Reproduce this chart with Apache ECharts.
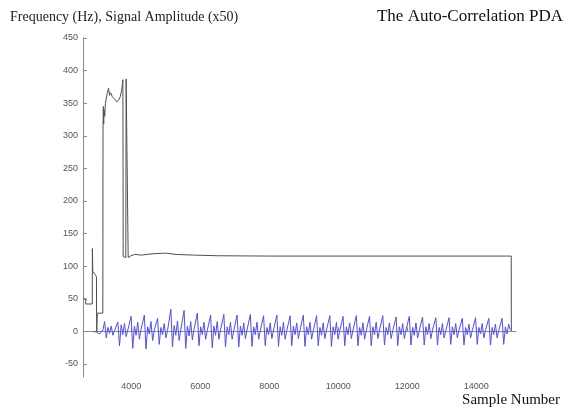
<!DOCTYPE html>
<html>
<head>
<meta charset="utf-8">
<script src="https://cdn.jsdelivr.net/npm/echarts@6/dist/echarts.min.js"></script>
<style>html,body{margin:0;padding:0;background:#fff}#c{width:576px;height:414px}</style>
</head>
<body>
<div id="c"></div>
<script>
// Pitch estimate (Hz) breakpoints: sample number, frequency
const pitchX = [2620,2680,2680,2870,2872,2885,2940,2990,2993,2998,3010,3015,3175,3180,3190,3200,3210,3230,3250,3300,3340,3370,3400,3450,3520,3580,3640,3680,3720,3757,3765,3840,3850,3900,3910,3990,4100,4300,4600,5000,5300,5800,6500,8000,15012,15015];
const pitchY = [50,50,42,42,127,92,88,84,28,0,0,28,28,310,345,318,340,330,350,365,373,362,366,360,356,352,355,360,370,386,115,113,387,385,113,116,118,117,119,120,118,117,116,115.5,115.5,0];

// Signal amplitude (x50), sampled every sigStep samples from sigStart
const sigStart = 2890;
const sigStep = 48;
const sigValues = [
 0,0,-1,-3,-4,-1,
 2,15,-10,6,-3,8,-6,1,
 3,14,-22,10,-5,12,-8,2,
 4,23,-26,8,-6,14,-12,3,
 2,25,-27,7,-4,15,-14,2,
 3,20,-20,6,-5,12,-10,1,
 4,34,-24,9,-6,16,-14,2,
 3,32,-26,8,-7,15,-13,3,
 2,28,-22,7,-5,14,-12,1,
 3,25,-25,8,-6,15,-12,2,
 2,26,-24,7,-5,14,-12,1,
 3,25,-24,8,-6,13,-11,2,
 2,26,-23,7,-5,14,-12,1,
 3,24,-22,6,-5,13,-11,2,
 2,25,-23,7,-6,14,-12,1,
 3,24,-22,8,-5,13,-11,2,
 2,25,-23,7,-5,14,-12,1,
 3,24,-22,6,-6,13,-11,2,
 2,24,-23,7,-5,14,-12,1,
 3,23,-22,7,-5,13,-11,2,
 2,24,-22,6,-6,13,-12,1,
 3,23,-22,7,-5,14,-11,2,
 2,24,-21,6,-5,13,-11,1,
 3,22,-22,7,-5,12,-11,2,
 2,23,-21,6,-6,13,-10,1,
 3,22,-21,7,-5,12,-11,2,
 2,21,-21,6,-5,12,-10,1,
 3,21,-20,7,-5,12,-10,2,
 2,20,-21,6,-5,11,-10,1,
 3,21,-20,6,-4,12,-10,2,
 2,20,-21,6,-5,11,-10,1,
 3,20,-20,7,-4,11,2
];

const yTicks = [-50,0,50,100,150,200,250,300,350,400,450];
const xTicks = [4000,6000,8000,10000,12000,14000];

const pitchData = pitchX.map((x, i) => [x, pitchY[i]]);
const sigData = sigValues.map((v, i) => [sigStart + i * sigStep, v]);

const chart = echarts.init(document.getElementById('c'));
const axisCol = '#8a8a8a';
const labelStyle = {color: '#555', fontSize: 9, fontFamily: 'Liberation Sans, Arial, sans-serif'};
const serif = 'Liberation Serif, Times New Roman, serif';
chart.setOption({
  animation: false,
  backgroundColor: '#fff',
  title: [
    {text: 'Frequency (Hz), Signal Amplitude (x50)', left: 5, top: 5,
     textStyle: {fontFamily: serif, fontWeight: 'normal', fontSize: 14, color: '#222'}},
    {text: 'The Auto-Correlation PDA', right: 8, top: 3,
     textStyle: {fontFamily: serif, fontWeight: 'normal', fontSize: 17, color: '#111'}},
    {text: 'Sample Number', right: 11, top: 388,
     textStyle: {fontFamily: serif, fontWeight: 'normal', fontSize: 15, color: '#111'}}
  ],
  grid: {left: 83, right: 60, top: 38, bottom: 37, containLabel: false},
  xAxis: {
    type: 'value', min: 2600, max: 15150,
    axisLine: {show: true, lineStyle: {color: axisCol, width: 1}},
    axisTick: {show: true, inside: true, length: 4, lineStyle: {color: axisCol}, customValues: xTicks},
    axisLabel: Object.assign({margin: 5, customValues: xTicks, formatter: v => String(v)}, labelStyle),
    splitLine: {show: false}
  },
  yAxis: {
    type: 'value', min: -70, max: 450,
    axisLine: {show: true, lineStyle: {color: axisCol, width: 1}},
    axisTick: {show: true, inside: true, length: 4, lineStyle: {color: axisCol}, customValues: yTicks},
    axisLabel: Object.assign({margin: 5, customValues: yTicks, formatter: v => String(v)}, labelStyle),
    splitLine: {show: false}
  },
  series: [
    {type: 'line', data: pitchData, symbol: 'none', lineStyle: {color: '#505050', width: 1}, z: 2},
    {type: 'line', data: sigData, symbol: 'none', lineStyle: {color: '#4f4fee', width: 1}, z: 3}
  ]
});
</script>
</body>
</html>
